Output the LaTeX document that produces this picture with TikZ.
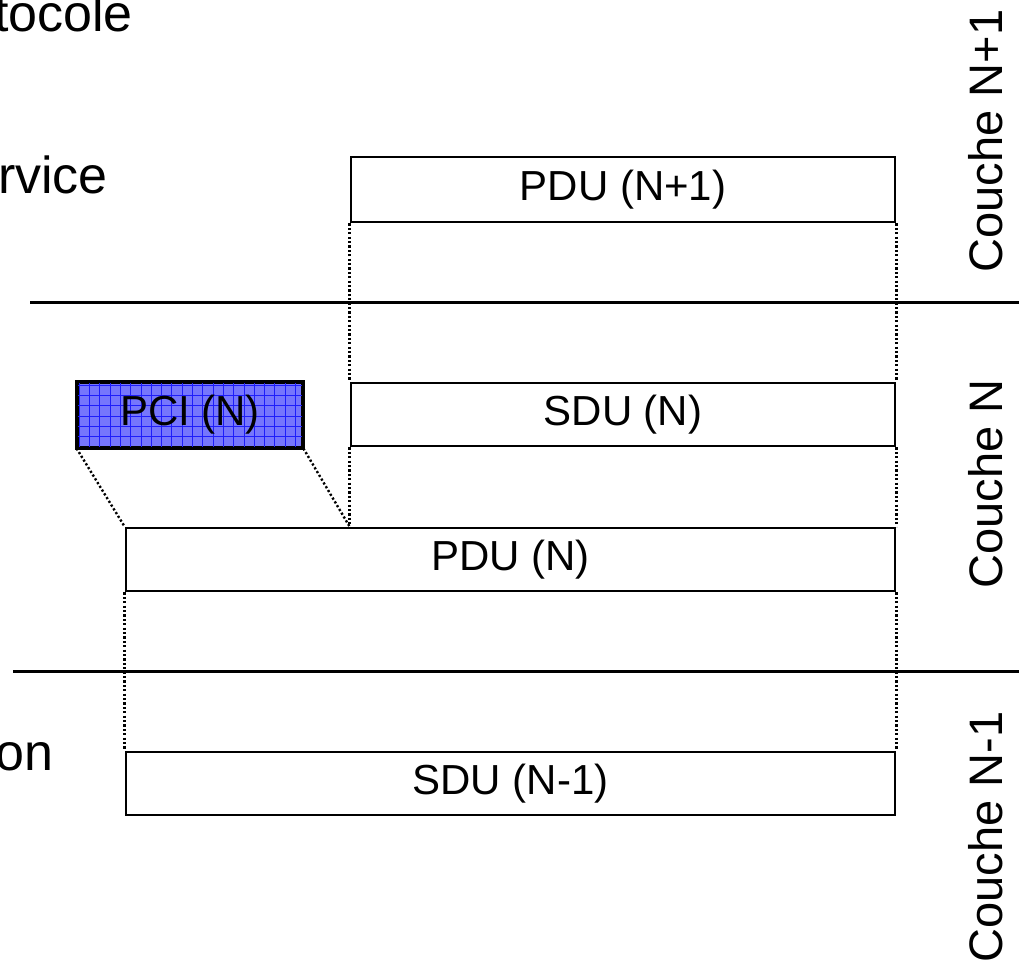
\documentclass[tikz,border=0pt]{standalone}
\usepackage{fontspec}
\setmainfont{Liberation Sans}
\usetikzlibrary{calc}
\definecolor{pcifill}{RGB}{118,118,252}
\definecolor{pcigrid}{RGB}{30,30,250}
\tikzset{
  unit/.style={draw=black, line width=2.8pt, fill=white, inner sep=0pt, font=\fontsize{42}{50}\selectfont},
  sep/.style={line width=3pt},
  dots/.style={line width=2.4pt, dash pattern=on 2.2pt off 2.2pt},
  layer/.style={rotate=90, anchor=base, inner sep=0pt, font=\fontsize{47}{56}\selectfont},
  side/.style={anchor=base east, inner sep=0pt, font=\fontsize{52}{60}\selectfont}
}
\begin{document}
\begin{tikzpicture}[x=1pt,y=-1pt]
\useasboundingbox (0,0) rectangle (1019,966);
\begin{scope}
\clip (0,0) rectangle (1019,966);
% left texts (clipped in reference)
\node[side] (t1) at (133,32) {tocole};
\node[side] (t2) at (108,193) {rvice};
\node[side] (t3) at (54,770) {on};
% layer separators
\coordinate (s1a) at (30,302);
\coordinate (s1b) at (1019,302);
\coordinate (s2a) at (13,671);
\coordinate (s2b) at (1019,671);
\draw[sep] (s1a) -- (s1b);
\draw[sep] (s2a) -- (s2b);
% boxes
\node[unit, minimum width=544pt, minimum height=65pt] (pdu1) at (623,189.5) {PDU (N+1)};
\node[unit, minimum width=544pt, minimum height=63pt] (sdun) at (623,414.5) {SDU (N)};
\node[unit, minimum width=769pt, minimum height=63pt] (pdun) at (510.5,559.5) {PDU (N)};
\node[unit, minimum width=769pt, minimum height=63pt] (sdu0) at (510.5,783.5) {SDU (N-1)};
% PCI box with grid fill
\node[unit, fill=pcifill, minimum width=224pt, minimum height=64pt] (pci) at (190,415) {};
\begin{scope}
\clip (pci.south west) rectangle (pci.north east);
\foreach \gx in {79,89.3,...,310} \draw[pcigrid, line width=0.6pt] (\gx,380) -- (\gx,450);
\foreach \gy in {385,395.3,...,450} \draw[pcigrid, line width=0.6pt] (70,\gy) -- (310,\gy);
\end{scope}
\draw[line width=2.8pt] (pci.south west) rectangle (pci.north east);
\node[inner sep=0pt, font=\fontsize{42}{50}\selectfont] (pcitxt) at (pci.center) {PCI (N)};
% dotted connectors
\coordinate (pdunm) at (sdun.south west |- pdun.north);
\draw[dots] (pdu1.south west) -- (sdun.north west);
\draw[dots] (sdun.south west) -- (pdunm);
\draw[dots] (pdu1.south east) -- (sdun.north east);
\draw[dots] (sdun.south east) -- (pdun.north east);
\draw[dots] (pdun.south east) -- (sdu0.north east);
\draw[dots] (pdun.south west) -- (sdu0.north west);
\draw[dots] (pci.south west) -- (pdun.north west);
\draw[dots] (pci.south east) -- (pdunm);
% layer labels
\node[layer] (l1) at (1002,141) {Couche N+1};
\node[layer] (l2) at (1002,484) {Couche N};
\node[layer] (l3) at (1002,837) {Couche N-1};
\end{scope}
\end{tikzpicture}
\end{document}
